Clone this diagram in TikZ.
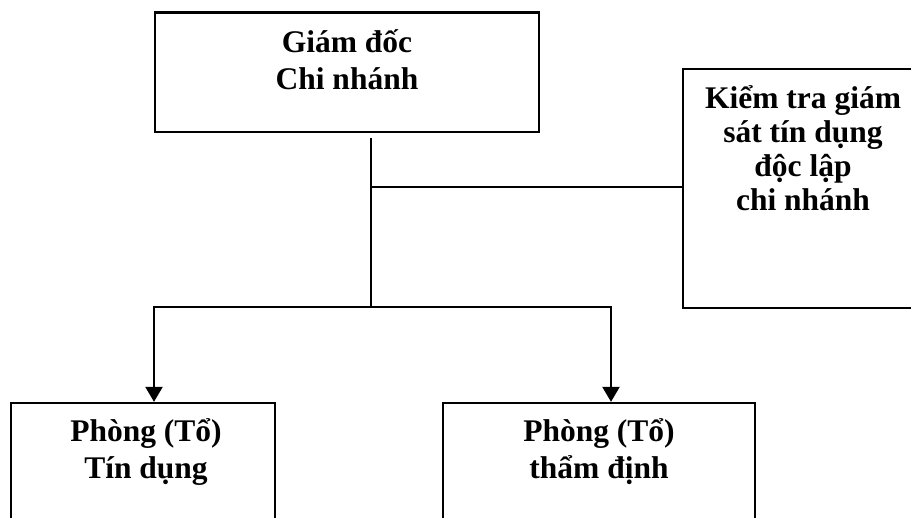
\documentclass[tikz,border=0pt]{standalone}
\usepackage{fontspec}
\setmainfont{Liberation Serif}
\usetikzlibrary{arrows.meta}
\begin{document}
\begin{tikzpicture}[x=1pt,y=-1pt,
  box/.style={draw, line width=2.3pt, rectangle, inner sep=0pt},
  wire/.style={line width=2.3pt},
  feed/.style={wire, -{Triangle[width=17pt,length=15pt]}},
  caption/.style={align=center, anchor=base, inner sep=0pt}]
\useasboundingbox (0,0) rectangle (911,518);
\clip (0,0) rectangle (911,518);

% boxes
\node[box, minimum width=384pt, minimum height=119.5pt] (gd) at (347,72.25) {};
\node[box, minimum width=238pt, minimum height=239pt] (ks) at (802,188.5) {};
\node[box, minimum width=264pt, minimum height=160pt] (tin) at (143,483) {};
\node[box, minimum width=312pt, minimum height=160pt] (td) at (599,483) {};

% box captions (anchored on the baseline of the last line)
\node[caption, font=\fontsize{31.5}{37}\selectfont\bfseries] (gdtext) at (347,90) {Giám đốc\\Chi nhánh};
\node[caption, font=\fontsize{31.5}{34}\selectfont\bfseries] (kstext) at (803,211) {Kiểm tra giám\\sát tín dụng\\độc lập\\chi nhánh};
\node[caption, font=\fontsize{31.5}{37}\selectfont\bfseries] (tintext) at (146,479) {Phòng (Tổ)\\Tín dụng};
\node[caption, font=\fontsize{31.5}{37}\selectfont\bfseries] (tdtext) at (599,479) {Phòng (Tổ)\\thẩm định};

% connectors
\coordinate (stem) at (371,138);
\coordinate (tap) at (371,187);
\coordinate (hub) at (371,307);
\coordinate (busL) at (154,307);
\coordinate (busR) at (611,307);
\draw[wire] (stem) -- (hub);
\draw[wire] (tap) -- (tap -| ks.west);
\draw[feed] (hub) -- (busL) -- (busL |- tin.north);
\draw[feed] (hub) -- (busR) -- (busR |- td.north);
\end{tikzpicture}
\end{document}
